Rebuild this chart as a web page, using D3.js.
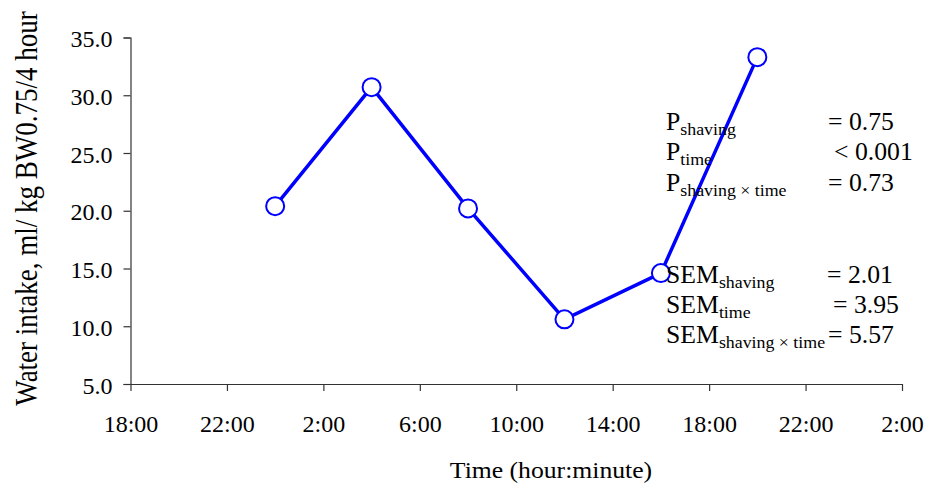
<!DOCTYPE html>
<html>
<head>
<meta charset="utf-8">
<script src="https://cdn.jsdelivr.net/npm/d3@7"></script>
<style>
  body { margin: 0; background: #fff; }
  svg text { font-family: "Liberation Serif", "Times New Roman", serif; fill: #000; }
</style>
</head>
<body>
<svg id="chart" width="927" height="488"></svg>
<script>
// Data (time as hours since 0:00 of day 1; 18:00 = 18, next-day 2:00 = 50)
const timeHours = [24, 28, 32, 36, 40, 44];
const waterIntake = [20.4, 30.7, 20.2, 10.6, 14.6, 33.3];
const xTickHours = [18, 22, 26, 30, 34, 38, 42, 46, 50];
const xTickLabels = ["18:00", "22:00", "2:00", "6:00", "10:00", "14:00", "18:00", "22:00", "2:00"];
const yTicks = [5, 10, 15, 20, 25, 30, 35];
const statsP = [["shaving", "= 0.75"], ["time", "< 0.001"], ["shaving × time", "= 0.73"]];
const statsSEM = [["shaving", "= 2.01"], ["time", "= 3.95"], ["shaving × time", "= 5.57"]];

const svg = d3.select("#chart");
const x = d3.scaleLinear().domain([18, 50]).range([130.5, 902]);
const y = d3.scaleLinear().domain([5, 35]).range([384, 37.5]);

// Y axis
const yAxis = svg.append("g").attr("transform", "translate(130.5,0)")
  .call(d3.axisLeft(y).tickValues(yTicks).tickFormat(d3.format(".1f")).tickSize(7).tickPadding(11));
yAxis.select(".domain").attr("stroke", "#333").attr("stroke-width", 1.2);
yAxis.selectAll(".tick line").attr("stroke", "#333").attr("stroke-width", 1.2);
yAxis.selectAll(".tick text").style("font-size", "24px").style("font-family", "Liberation Serif").attr("fill", "#000").attr("dy", "0.38em");

// X axis
const xAxis = svg.append("g").attr("transform", "translate(0,384)")
  .call(d3.axisBottom(x).tickValues(xTickHours).tickFormat((d, i) => xTickLabels[i]).tickSizeInner(7).tickSizeOuter(0).tickPadding(24));
xAxis.select(".domain").attr("stroke", "#333").attr("stroke-width", 1.2);
xAxis.selectAll(".tick line").attr("stroke", "#333").attr("stroke-width", 1.2);
xAxis.selectAll(".tick text").style("font-size", "24px").style("font-family", "Liberation Serif").attr("fill", "#000");

// Axis titles
svg.append("text")
  .attr("transform", "translate(36.5,208.5) scale(1.2,1) rotate(-90)")
  .attr("text-anchor", "middle")
  .style("font-size", "27px")
  .text("Water intake, ml/ kg BW0.75/4 hour");
svg.append("text")
  .attr("transform", "translate(551,478) scale(1.07,1)")
  .attr("text-anchor", "middle")
  .style("font-size", "24px")
  .text("Time (hour:minute)");

// Line
const data = timeHours.map((t, i) => ({ t, v: waterIntake[i] }));
svg.append("path").datum(data)
  .attr("fill", "none").attr("stroke", "#0000FF").attr("stroke-width", 3.5)
  .attr("d", d3.line().x(d => x(d.t)).y(d => y(d.v)));
svg.selectAll("circle.pt").data(data).enter().append("circle")
  .attr("class", "pt")
  .attr("cx", d => x(d.t)).attr("cy", d => y(d.v)).attr("r", 9)
  .attr("fill", "#fff").attr("stroke", "#0000FF").attr("stroke-width", 2);

// Stats annotation
const sx = 1.05;
function statLine(label, sub, val, base, valX) {
  const t = svg.append("text").attr("transform", `translate(666,${base}) scale(${sx},1)`).style("font-size", "24.5px");
  t.append("tspan").text(label);
  t.append("tspan").attr("dy", 5).style("font-size", "17px").text(sub);
  svg.append("text").attr("transform", `translate(${valX},${base}) scale(${sx},1)`).style("font-size", "24.5px").text(val);
}
const pBase = [129.5, 160, 191];
const pValX = [828, 834, 828];
statsP.forEach((s, i) => statLine("P", s[0], s[1], pBase[i], pValX[i]));
const sBase = [283, 313, 343];
const sValX = [827, 833, 828];
statsSEM.forEach((s, i) => statLine("SEM", s[0], s[1], sBase[i], sValX[i]));
</script>
</body>
</html>
